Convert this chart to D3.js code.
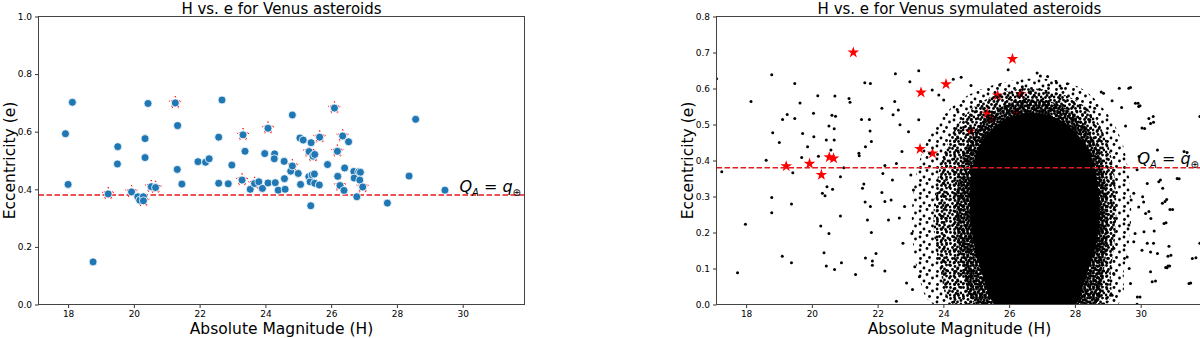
<!DOCTYPE html>
<html>
<head>
<meta charset="utf-8">
<script src="https://cdn.jsdelivr.net/npm/d3@7"></script>
<style>
  body { margin: 0; background: #fff; }
  svg { display: block; }
  text { font-family: "DejaVu Sans", sans-serif; }
</style>
</head>
<body>
<script>
// ---- data ----
// known Venus asteroids: [H, e]
const realAsteroids = [
  [17.92,0.593],[18.13,0.702],[18.0,0.417],[18.76,0.148],[19.22,0.384],[19.51,0.548],[19.50,0.488],
  [19.93,0.391],[20.12,0.374],[20.18,0.362],[20.29,0.374],[20.29,0.360],[20.34,0.576],[20.34,0.510],
  [20.43,0.698],[20.53,0.409],[20.66,0.406],[21.26,0.700],[21.33,0.621],[21.32,0.469],[21.46,0.418],
  [21.95,0.496],[22.18,0.494],[22.29,0.506],[22.58,0.581],[22.68,0.710],[22.58,0.421],[22.87,0.419],
  [22.98,0.484],[23.29,0.432],[23.32,0.589],[23.38,0.532],[23.54,0.400],[23.67,0.420],[23.80,0.426],
  [23.91,0.403],[23.98,0.524],[24.08,0.612],[24.08,0.422],[24.28,0.523],[24.27,0.506],[24.30,0.423],
  [24.39,0.397],[24.57,0.497],[24.58,0.437],[24.60,0.400],[24.77,0.463],[24.82,0.658],[24.82,0.481],
  [25.00,0.455],[25.05,0.578],[25.07,0.417],[25.15,0.571],[25.32,0.444],[25.33,0.531],[25.36,0.426],
  [25.38,0.343],[25.39,0.562],[25.42,0.450],[25.45,0.515],[25.49,0.453],[25.50,0.521],[25.50,0.421],
  [25.64,0.415],[25.65,0.581],[25.89,0.486],[26.10,0.682],[26.19,0.532],[26.20,0.445],[26.27,0.413],
  [26.35,0.585],[26.39,0.396],[26.41,0.474],[26.53,0.565],[26.69,0.462],[26.70,0.439],[26.78,0.374],
  [26.84,0.461],[26.89,0.459],[26.87,0.432],[26.96,0.408],[27.71,0.352],[28.37,0.446],[28.57,0.643],
  [29.46,0.397]
];

// asteroids marked with a star in both panels
const starH = [19.22,19.93,20.29,20.53,20.66,21.26,23.29,23.32,23.67,24.08,24.82,25.33,25.45,25.65,26.10,26.19,26.27,26.35,26.96];
const starE = [0.384,0.391,0.360,0.409,0.406,0.700,0.432,0.589,0.420,0.612,0.481,0.531,0.515,0.581,0.682,0.532,0.413,0.585,0.408];

// simulated asteroids, scattered ones: [H, e]
const simScatter = [
  [17.10,0.627],[17.26,0.369],[17.74,0.088],[17.98,0.223],[18.15,0.564],[18.61,0.401],[18.78,0.638],
  [18.81,0.477],[18.78,0.297],[18.78,0.255],[19.01,0.450],[19.11,0.514],[19.25,0.528],[19.10,0.134],
  [19.38,0.116],[19.38,0.279],[19.42,0.366],[19.48,0.517],[19.48,0.614],[19.64,0.560],[19.72,0.475],
  [19.69,0.408],[19.87,0.438],[20.05,0.531],[20.18,0.580],[20.06,0.466],[20.20,0.412],[20.27,0.218],
  [20.32,0.309],[20.37,0.144],[20.40,0.302],[20.44,0.107],[20.46,0.327],[20.52,0.197],[20.52,0.496],
  [20.58,0.429],[20.61,0.526],[20.44,0.457],[20.63,0.320],[20.68,0.488],[20.68,0.457],[20.69,0.097],
  [20.70,0.579],[20.72,0.523],[20.87,0.246],[20.90,0.116],[20.87,0.355],[20.97,0.380],[21.13,0.572],
  [21.16,0.562],[21.33,0.083],[21.43,0.420],[21.44,0.413],[21.51,0.514],[21.54,0.323],[21.58,0.335],
  [21.61,0.616],[21.78,0.614],[21.62,0.285],[21.63,0.129],[21.63,0.438],[21.75,0.514],[21.77,0.482],
  [21.81,0.453],[21.69,0.235],[21.78,0.272],[21.81,0.200],[21.84,0.121],[21.84,0.109],[21.95,0.142],
  [22.13,0.545],[22.13,0.311],[22.16,0.364],[22.22,0.286],[22.22,0.093],[22.22,0.386],[22.33,0.235],
  [22.41,0.290],[22.45,0.346],[22.47,0.527],[22.52,0.564],[22.54,0.641],[22.57,0.392],[22.63,0.540],
  [22.66,0.240],[22.57,0.009],[22.68,0.499],[22.74,0.425],[22.77,0.170],[22.82,0.272],[22.88,0.060],
  [22.94,0.480],[22.98,0.619],[23.01,0.360],[23.04,0.197],[23.09,0.318],[23.13,0.105],[23.06,0.042],
  [23.25,0.649],[23.27,0.077],[23.25,0.513],[23.66,0.596],[23.86,0.582],[24.01,0.568],[24.30,0.626],
  [24.54,0.631],[24.42,0.542],[24.84,0.608],[25.13,0.564],[25.71,0.610],[25.97,0.652],[26.40,0.605],
  [26.65,0.591],[26.85,0.643],[26.95,0.635],[27.17,0.633],[27.20,0.610],[27.44,0.616],[27.59,0.601],
  [27.77,0.613],[28.07,0.573],[28.37,0.540],[28.60,0.545],[28.80,0.590],[28.87,0.587],[29.13,0.566],
  [29.35,0.601],[29.42,0.547],[29.54,0.496],[29.64,0.601],[29.69,0.603],[29.84,0.559],[29.92,0.559],
  [29.94,0.550],[29.98,0.552],[30.04,0.490],[30.12,0.489],[30.25,0.517],[30.30,0.503],[30.38,0.522],
  [30.39,0.506],[30.51,0.429],[30.55,0.341],[30.60,0.346],[30.67,0.323],[30.74,0.286],[30.79,0.292],
  [30.97,0.264],[30.77,0.227],[30.86,0.162],[30.92,0.137],[30.88,0.107],[30.80,0.102],[31.11,0.350],
  [31.17,0.349],[31.32,0.425],[31.41,0.422],[31.52,0.060],[31.68,0.130],[31.80,0.522],[31.88,0.167],
  [29.98,0.021],[29.89,0.001],[30.45,0.065],[30.30,0.146],[30.41,0.204],[30.31,0.239],[30.39,0.170],
  [30.15,0.253],[30.20,0.336],[30.06,0.299],[29.89,0.374],[29.95,0.411],[29.71,0.290],[29.83,0.197],
  [29.65,0.100],[30.66,0.281],[30.89,0.264],[30.71,0.225],[30.10,0.202],[30.20,0.170],[30.51,0.142],
  [30.83,0.134],[30.83,0.107],[30.76,0.103],[30.35,0.063],[29.90,0.021],[31.47,0.058],[31.57,0.128],
  [31.80,0.170],[30.30,0.091],[29.79,0.309],[29.94,0.271],[30.25,0.258],[29.64,0.221],[29.79,0.174],
  [30.04,0.151],[29.59,0.132],[29.69,0.058],[30.09,0.285],[29.13,0.026],[29.18,0.086]
];

// simulated asteroids, crowded zones (outlines of the dot cloud, sparse -> solid): [H, e]
const cloudOuter = [
  [23.7,0],[23.25,0.08],[23.05,0.2],[23.1,0.32],[23.35,0.42],[23.8,0.5],[24.4,0.56],[25.2,0.6],
  [26.3,0.625],[27.3,0.625],[28.2,0.6],[28.9,0.54],[29.4,0.46],[29.65,0.35],[29.7,0.22],[29.5,0.1],[29.3,0]
];
const cloudMid = [
  [24.3,0],[23.9,0.1],[23.7,0.22],[23.8,0.34],[24.1,0.44],[24.6,0.52],[25.3,0.57],[26.4,0.6],
  [27.4,0.59],[28.3,0.55],[28.9,0.47],[29.2,0.36],[29.25,0.22],[29.1,0.1],[28.95,0]
];
const cloudInner = [
  [25.0,0],[24.6,0.1],[24.4,0.22],[24.45,0.34],[24.7,0.44],[25.2,0.51],[25.9,0.555],[26.6,0.57],
  [27.4,0.56],[28.2,0.51],[28.7,0.43],[28.95,0.33],[29.0,0.2],[28.85,0.08],[28.6,0]
];
const cloudCore = [
  [25.6,0],[25.2,0.08],[24.9,0.18],[24.8,0.28],[24.85,0.36],[25.0,0.42],[25.3,0.47],[25.8,0.51],
  [26.4,0.53],[27.0,0.53],[27.6,0.51],[28.1,0.47],[28.5,0.41],[28.7,0.33],[28.75,0.24],[28.6,0.15],
  [28.3,0.07],[28.0,0]
];

const xTicks = [18, 20, 22, 24, 26, 28, 30];
const yTicksLeft = [0, 0.2, 0.4, 0.6, 0.8, 1.0];
const yTicksRight = [0, 0.1, 0.2, 0.3, 0.4, 0.5, 0.6, 0.7, 0.8];
const qLine = 0.38;

// ---- canvas ----
const canvWidth = 1200, canvHeight = 338;
const svg = d3.select("body").append("svg")
    .attr("width", canvWidth)
    .attr("height", canvHeight);

const defs = svg.append("defs");

// dot textures for the crowded parts of the cloud
function dotPattern(id, w, h, spots) {
    const p = defs.append("pattern").attr("id", id)
        .attr("patternUnits", "userSpaceOnUse").attr("width", w).attr("height", h);
    spots.forEach(s => p.append("circle").attr("cx", s[0]).attr("cy", s[1]).attr("r", 1.4).attr("fill", "#000"));
}
dotPattern("sparse", 17, 13, [[2,3],[9,1.5],[14.5,5],[6,8],[11.5,10.5],[2.5,11.5]]);
dotPattern("mid", 13, 11, [[1.5,1.5],[6,2.5],[10.5,1],[3.5,5.5],[8.5,5],[12,7],[1,9],[5.5,9.5],[9.5,9.5],[7,7.5]]);
dotPattern("dense", 9, 8, [[1.5,1.5],[4.5,1],[7.5,2],[3,4],[6,4.5],[1,6.5],[4.5,7],[8,6]]);

const plotTop = 16.5, plotBottom = 304.5, plotW = 486;

function makePanel(id, left, yMax, yTicks, yFmt, title) {
    const xScale = d3.scaleLinear().domain([17.1, 31.88]).range([left, left + plotW]);
    const yScale = d3.scaleLinear().domain([0, yMax]).range([plotBottom, plotTop]);

    defs.append("clipPath").attr("id", "clip-" + id)
      .append("rect")
        .attr("x", left).attr("y", plotTop)
        .attr("width", plotW).attr("height", plotBottom - plotTop);

    const g = svg.append("g").attr("id", id);
    const plot = g.append("g").attr("clip-path", "url(#clip-" + id + ")");

    // axes
    const xAxis = d3.axisBottom(xScale).tickValues(xTicks).tickSize(3.5).tickPadding(3);
    g.append("g").attr("transform", "translate(0," + plotBottom + ")").call(xAxis)
        .call(a => a.select(".domain").remove());
    const yAxis = d3.axisLeft(yScale).tickValues(yTicks).tickFormat(yFmt).tickSize(3.5).tickPadding(3);
    g.append("g").attr("transform", "translate(" + left + ",0)").call(yAxis)
        .call(a => a.select(".domain").remove());
    g.selectAll(".tick text").attr("font-family", "DejaVu Sans").attr("font-size", "9px").attr("fill", "#000");
    g.selectAll(".tick line").attr("stroke", "#333");

    // titles
    g.append("text")
        .attr("x", left + plotW / 2).attr("y", 13.5)
        .attr("font-size", "15px")
        .style("text-anchor", "middle")
        .text(title);
    g.append("text")
        .attr("x", left + plotW / 2).attr("y", 334)
        .attr("font-size", "15.5px")
        .style("text-anchor", "middle")
        .text("Absolute Magnitude (H)");
    g.append("text")
        .attr("transform", "rotate(-90)")
        .attr("x", -(plotTop + plotBottom) / 2).attr("y", left - 24)
        .attr("font-size", "15.5px")
        .style("text-anchor", "middle")
        .text("Eccentricity (e)");

    return {g, plot, xScale, yScale, left};
}

function addQLine(p) {
    p.plot.append("line")
        .attr("x1", p.left).attr("x2", p.left + plotW)
        .attr("y1", p.yScale(qLine)).attr("y2", p.yScale(qLine))
        .attr("stroke", "#e41a1c").attr("stroke-width", 1.5)
        .attr("stroke-dasharray", "5.5,2.5");
}

function addQLabel(p) {
    const t = p.plot.append("text")
        .attr("x", p.xScale(29.9)).attr("y", p.yScale(0.39))
        .attr("font-size", "16px");
    t.append("tspan").attr("font-style", "italic").text("Q");
    t.append("tspan").attr("font-style", "italic").attr("font-size", "10px").attr("dy", 4).text("A");
    t.append("tspan").attr("dy", -4).text(" = ");
    t.append("tspan").attr("font-style", "italic").text("q");
    t.append("tspan").attr("font-size", "10px").attr("dy", 4).text("\u2295");
}

function frame(p) {
    p.g.append("rect")
        .attr("x", p.left).attr("y", plotTop)
        .attr("width", plotW).attr("height", plotBottom - plotTop)
        .attr("fill", "none").attr("stroke", "#444").attr("stroke-width", 1);
}

const stars = starH.map((h, i) => [h, starE[i]]);

// ---- left panel: observed ----
const leftP = makePanel("left", 38.5, 1.0, yTicksLeft, d3.format(".1f"), "H vs. e for Venus asteroids");
addQLine(leftP);
leftP.plot.selectAll("path.star").data(stars).enter().append("path")
    .attr("class", "star")
    .attr("d", d3.symbol(d3.symbolStar, 50))
    .attr("transform", d => "translate(" + leftP.xScale(d[0]) + "," + leftP.yScale(d[1]) + ")")
    .attr("fill", "none").attr("stroke", "#ff0000").attr("stroke-width", 1)
    .attr("stroke-dasharray", "1.2,2.2");
leftP.plot.selectAll("circle.real").data(realAsteroids).enter().append("circle")
    .attr("class", "real")
    .attr("cx", d => leftP.xScale(d[0]))
    .attr("cy", d => leftP.yScale(d[1]))
    .attr("r", 4)
    .attr("fill", "#1f77b4").attr("stroke", "#fff").attr("stroke-width", 0.8);
addQLabel(leftP);
frame(leftP);

// ---- right panel: simulated ----
const rightP = makePanel("right", 716.5, 0.8, yTicksRight, d3.format(".1f"), "H vs. e for Venus symulated asteroids");
addQLabel(rightP);
rightP.plot.selectAll("path.star").data(stars).enter().append("path")
    .attr("class", "star")
    .attr("d", d3.symbol(d3.symbolStar, 42))
    .attr("transform", d => "translate(" + rightP.xScale(d[0]) + "," + rightP.yScale(d[1]) + ")")
    .attr("fill", "#ff0000");

const cloudLine = d3.line()
    .x(d => rightP.xScale(d[0]))
    .y(d => rightP.yScale(d[1]))
    .curve(d3.curveCatmullRomClosed);
rightP.plot.append("path").datum(cloudOuter).attr("d", cloudLine).attr("fill", "url(#sparse)");
rightP.plot.append("path").datum(cloudMid).attr("d", cloudLine).attr("fill", "url(#mid)");
rightP.plot.append("path").datum(cloudInner).attr("d", cloudLine).attr("fill", "url(#dense)");
rightP.plot.append("path").datum(cloudCore).attr("d", cloudLine).attr("fill", "#000");

rightP.plot.selectAll("circle.sim").data(simScatter).enter().append("circle")
    .attr("class", "sim")
    .attr("cx", d => rightP.xScale(d[0]))
    .attr("cy", d => rightP.yScale(d[1]))
    .attr("r", 1.5)
    .attr("fill", "#000");
addQLine(rightP);
frame(rightP);
</script>
</body>
</html>
